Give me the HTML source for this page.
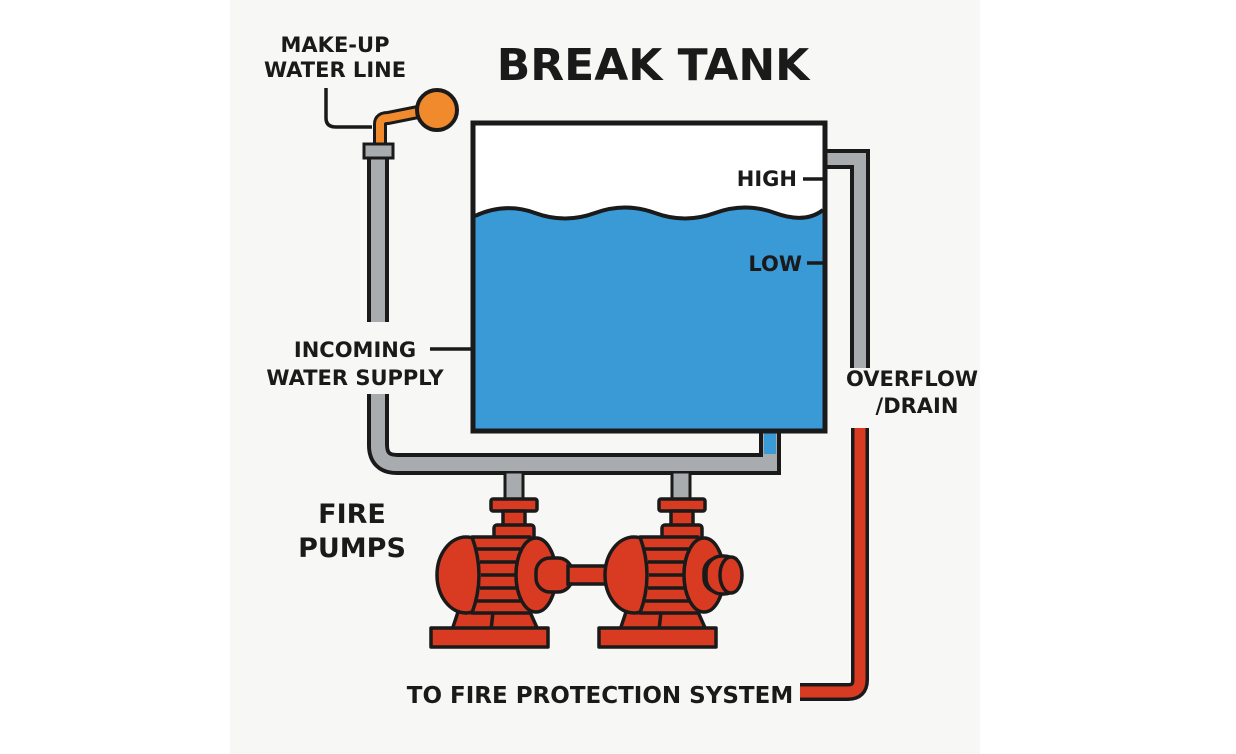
<!DOCTYPE html>
<html><head><meta charset="utf-8"><style>
html,body{margin:0;padding:0;background:#fff;}
svg{display:block;}
text{font-family:"DejaVu Sans","Liberation Sans",sans-serif;font-weight:bold;fill:#1a1a1a;}
</style></head><body>
<svg width="1236" height="754" viewBox="0 0 1236 754" xmlns="http://www.w3.org/2000/svg">
<rect x="0" y="0" width="1236" height="754" fill="#ffffff"/>
<rect x="230" y="0" width="750" height="754" fill="#f7f7f5"/>

<!-- incoming pipe (grey) -->
<path d="M378 152 V445 Q378 464 397 464 H770 V432" fill="none" stroke="#1a1a1a" stroke-width="22"/>
<path d="M378 152 V445 Q378 464 397 464 H770 V432" fill="none" stroke="#a9acaf" stroke-width="14"/>
<rect x="764" y="432" width="12" height="22" fill="#3a9ad6"/>
<rect x="505" y="472" width="18" height="30" fill="#a9acaf" stroke="#1a1a1a" stroke-width="3"/>
<rect x="672" y="472" width="18" height="30" fill="#a9acaf" stroke="#1a1a1a" stroke-width="3"/>
<path d="M378 152 V445 Q378 464 397 464 H770" fill="none" stroke="#a9acaf" stroke-width="14"/>
<rect x="365" y="322" width="30" height="72" fill="#f7f7f5"/>

<!-- make-up line -->
<path d="M326 88 V118 Q326 127 336 127 H372" fill="none" stroke="#1a1a1a" stroke-width="3.5"/>
<path d="M380 148 V124 Q380 118 388 118 L428 110" fill="none" stroke="#1a1a1a" stroke-width="14" stroke-linecap="round"/>
<path d="M380 148 V124 Q380 118 388 118 L428 110" fill="none" stroke="#f08a2c" stroke-width="8" stroke-linecap="round"/>
<circle cx="437" cy="110" r="20" fill="#f08a2c" stroke="#1a1a1a" stroke-width="4"/>
<rect x="364" y="144" width="29" height="14" fill="#a9acaf" stroke="#1a1a1a" stroke-width="3"/>

<!-- overflow pipe -->
<path d="M826 159 H860 V368" fill="none" stroke="#1a1a1a" stroke-width="20"/>
<path d="M826 159 H860 V368" fill="none" stroke="#a9acaf" stroke-width="12"/>
<path d="M860 428 V680 Q860 692 848 692 H800" fill="none" stroke="#1a1a1a" stroke-width="18"/>
<path d="M860 428 V680 Q860 692 848 692 H800" fill="none" stroke="#d93a22" stroke-width="11"/>

<!-- tank -->
<rect x="473" y="123" width="352" height="308" fill="#ffffff" stroke="#1a1a1a" stroke-width="5"/>
<path d="M475 216 Q505 202 535 213 T595 213 T655 213 T715 213 T775 213 T823 210 V429 H475 Z" fill="#3a9ad6"/>
<path d="M475 216 Q505 202 535 213 T595 213 T655 213 T715 213 T775 213 T823 210" fill="none" stroke="#1a1a1a" stroke-width="4"/>
<rect x="473" y="123" width="352" height="308" fill="none" stroke="#1a1a1a" stroke-width="5"/>

<!-- ticks -->
<line x1="803" y1="179" x2="823" y2="179" stroke="#1a1a1a" stroke-width="3.5"/>
<line x1="807" y1="263" x2="823" y2="263" stroke="#1a1a1a" stroke-width="3.5"/>
<line x1="430" y1="349" x2="472" y2="349" stroke="#1a1a1a" stroke-width="3.5"/>

<!-- pumps -->
<g id="pump" stroke="#1a1a1a" stroke-width="3.5" fill="#d93a22" stroke-linejoin="round">
  <rect x="491" y="499" width="46" height="12" rx="2"/>
  <rect x="503" y="511" width="22" height="16"/>
  <rect x="494" y="525" width="40" height="14" rx="3"/>
  <path d="M458 612 L452 630 H538 L530 612 Z"/>
  <line x1="493" y1="612" x2="491" y2="630"/>
  <rect x="431" y="628" width="117" height="19"/>
  <ellipse cx="466" cy="575" rx="29" ry="38"/>
  <path d="M472 537 H530 Q545 575 530 613 H472 Q486 575 472 537 Z"/>
  <path d="M476 549 H532 M480 562 H536 M481 575 H537 M480 588 H536 M476 601 H532" fill="none"/>
  <ellipse cx="536" cy="575" rx="20" ry="37"/>
  <rect x="536" y="558" width="36" height="34" rx="14"/>
</g>
<rect x="568" y="566" width="40" height="18" fill="#d93a22" stroke="#1a1a1a" stroke-width="3.5"/>
<use href="#pump" x="168"/>
<rect x="706" y="556" width="34" height="38" rx="16" fill="#d93a22" stroke="#1a1a1a" stroke-width="3.5"/>
<ellipse cx="731" cy="575" rx="11" ry="18" fill="#d93a22" stroke="#1a1a1a" stroke-width="3.5"/>

<!-- text -->
<text x="653" y="80" font-size="44" text-anchor="middle">BREAK TANK</text>
<text x="335" y="52" font-size="21" text-anchor="middle">MAKE-UP</text>
<text x="335" y="77" font-size="21" text-anchor="middle">WATER LINE</text>
<text x="797" y="186" font-size="21" text-anchor="end">HIGH</text>
<text x="802" y="271" font-size="21" text-anchor="end">LOW</text>
<text x="355" y="357" font-size="21" text-anchor="middle">INCOMING</text>
<text x="355" y="385" font-size="21" text-anchor="middle">WATER SUPPLY</text>
<text x="912" y="386" font-size="21" text-anchor="middle">OVERFLOW</text>
<text x="917" y="413" font-size="21" text-anchor="middle">/DRAIN</text>
<text x="352" y="523" font-size="27" text-anchor="middle">FIRE</text>
<text x="352" y="557" font-size="27" text-anchor="middle">PUMPS</text>
<text x="600" y="703" font-size="23" text-anchor="middle">TO FIRE PROTECTION SYSTEM</text>
</svg>
</body></html>
